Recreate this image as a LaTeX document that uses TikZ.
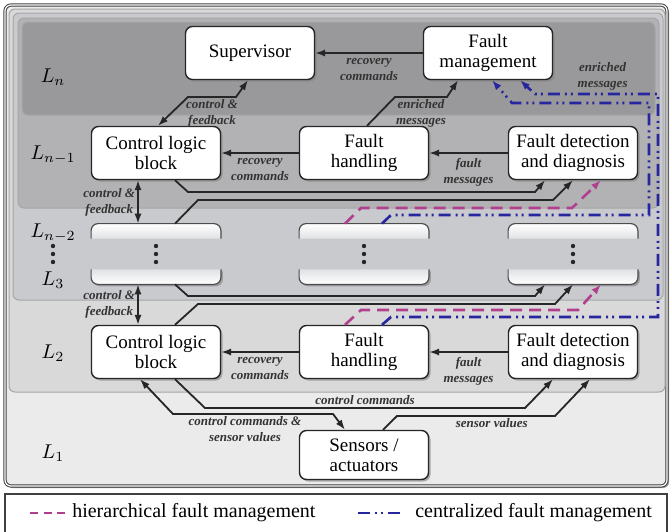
\documentclass[tikz,border=0pt]{standalone}
\usepackage{fontspec}
\setmainfont{Liberation Serif}
\usetikzlibrary{arrows.meta,shadows,calc}

\definecolor{layA}{RGB}{235,235,235}
\definecolor{layB}{RGB}{217,217,217}
\definecolor{layC}{RGB}{201,202,206}
\definecolor{layD}{RGB}{178,178,180}
\definecolor{layE}{RGB}{153,153,155}
\definecolor{hierc}{RGB}{176,64,142}
\definecolor{centc}{RGB}{38,38,158}

\begin{document}
\begin{tikzpicture}[
		x=0.5pt,
		y=-0.5pt,
		tipA/.style={-{Latex[length=5pt,width=3.6pt]}},
		tipB/.style={{Latex[length=5pt,width=3.6pt]}-{Latex[length=5pt,width=3.6pt]}},
		arr/.style={draw=black!85, line width=0.9pt, tipA},
		darr/.style={draw=black!85, line width=0.9pt, tipB},
		hier/.style={draw=hierc, line width=1.3pt, dash pattern=on 6pt off 3.5pt},
		cent/.style={draw=centc, line width=1.3pt, dash pattern=on 6pt off 2.5pt on 1pt off 2pt on 1pt off 2.5pt},
		laybox/.style={draw=black!35, line width=0.5pt, rounded corners=3pt},
		blk/.style={draw=black!85, fill=white, line width=0.7pt, rounded corners=3.5pt, minimum width=64.5pt, minimum height=26.5pt, inner sep=1.5pt, align=center, font=\fontsize{9.5}{10}\selectfont, drop shadow={shadow xshift=1pt, shadow yshift=-1pt, opacity=.6}},
		gapbox/.style={minimum width=64.5pt, minimum height=30pt, inner sep=0pt},
		piece/.style={draw=black!70, line width=0.6pt, rounded corners=3.5pt},
		lbl/.style={font=\fontsize{6.5}{8}\selectfont\bfseries\itshape, text=black!80, align=center, inner sep=1pt},
		laytxt/.style={font=\fontsize{10}{12}\selectfont},
		legtxt/.style={font=\fontsize{10}{12}\selectfont, inner sep=0pt, anchor=west},
	]
		\useasboundingbox (0,0) rectangle (670,531);
		
		\draw[draw=black!75, line width=0.9pt, fill=white] (5,494) rectangle (667,560);
		\draw[laybox, fill=layA, draw=black!75, double=white, double distance=0.6pt, drop shadow={shadow xshift=1pt, shadow yshift=-1pt, opacity=.8}] (5,5) rectangle (667,486);
		\foreach \m/\r/\b/\c in {9/665/392/layB, 13/663/300/layC, 18/659/208/layD, 22/655/115/layE}{
			\draw[laybox, fill=\c] (\m,\m) rectangle (\r,\b);
		}
		
		\foreach \y/\t in {77/n, 155/{n-1}, 233/{n-2}, 280/3, 353/2, 453/1}{
			\node[laytxt] (lay\t) at (53,\y) {$L_{\t}$};
		}
		
		\node[blk] (sup) at (250,53) {Supervisor};
		\node[blk] (fm) at (488,53) {Fault\\management};
		\node[blk] (clb1) at (156,153) {Control logic\\block};
		\node[blk] (fh1) at (364,153) {Fault\\handling};
		\node[blk] (fdd1) at (573,153) {Fault detection\\and diagnosis};
		\node[blk] (clb2) at (156,352) {Control logic\\block};
		\node[blk] (fh2) at (364,352) {Fault\\handling};
		\node[blk] (fdd2) at (573,352) {Fault detection\\and diagnosis};
		\node[blk, minimum height=24.5pt] (sens) at (364,455) {Sensors /\\actuators};
		
		\foreach \n/\x in {gap1/156, gap2/364, gap3/573}{
			\node[gapbox] (\n) at (\x,254) {};
			\path[piece, top color=white, bottom color=layC!55!white] ($(\n.north west)+(0,15)$) -- (\n.north west) -- (\n.north east) -- ($(\n.north east)+(0,15)$);
			\path[piece, top color=layC!55!white, bottom color=white, drop shadow={shadow xshift=1pt, shadow yshift=-1pt, opacity=.6}] ($(\n.south west)+(0,-15)$) -- (\n.south west) -- (\n.south east) -- ($(\n.south east)+(0,-15)$);
		}
		\foreach \x in {53,156,364,573}
			\foreach \y in {246,254,262}
				\fill[black!85] (\x,\y) circle (1.1pt);
		
		\draw[arr] (fm) -- node[lbl, below=1pt] {recovery\\commands} (sup);
		\draw[darr] ($(clb1.north)+(2,0)$) -- (188,97) -- node[lbl, below] {control \&\\feedback} (236,97) -- ($(sup.south)+(-2,0)$);
		\draw[arr] (fh1) -- node[lbl, below=1pt] {recovery\\commands} (clb1);
		\draw[arr] (fdd1) -- node[lbl, below=1pt] {fault\\messages} (fh1);
		\draw[arr] ($(fh1.north)+(3,0)$) -- (395,97) -- node[lbl, below] {enriched\\messages} (447,97) -- ($(fm.south)+(-30,0)$);
		\draw[arr] ($(clb1.south)+(19,0)$) -- (188,192) -- (535,192) -- ($(fdd1.south)+(-28,0)$);
		\draw[arr] ($(gap1.north)+(19,0)$) -- (198,200) -- (553,200) -- (fdd1.south);
		\draw[hier, tipA] ($(gap2.north)+(-19,0)$) -- (361,208) -- (572,208) -- ($(fdd1.south)+(28,0)$);
		\draw[cent, tipA] ($(gap2.north)+(18,0)$) -- (391,215) -- (649,215) -- (649,103) -- (512,103) -- ($(fm.south)+(4,0)$);
		\draw[cent, tipA] ($(fh2.north)+(18,0)$) -- (391,317) -- (658,317) -- (658,94) -- node[lbl, above, pos=.45] {enriched\\messages} (535,94) -- ($(fm.south)+(32,0)$);
		
		\draw[darr] ($(clb1.south)+(-18,0)$) -- node[lbl, left] {control \&\\feedback} ($(gap1.north)+(-18,0)$);
		\draw[darr] ($(gap1.south)+(-18,0)$) -- node[lbl, left] {control \&\\feedback} ($(clb2.north)+(-18,0)$);
		
		\draw[arr] ($(gap1.south)+(19,0)$) -- (188,296) -- (535,296) -- ($(gap3.south)+(-28,0)$);
		\draw[arr] ($(clb2.north)+(19,0)$) -- (198,304) -- (555,304) -- (gap3.south);
		\draw[hier, tipA] ($(fh2.north)+(-19,0)$) -- (361,310) -- (578,310) -- ($(gap3.south)+(28,0)$);
		
		\draw[arr] (fh2) -- node[lbl, below=1pt] {recovery\\commands} (clb2);
		\draw[arr] (fdd2) -- node[lbl, below=1pt] {fault\\messages} (fh2);
		
		\draw[darr] ($(clb2.south)+(-16,0)$) -- (173,414) -- node[lbl, below, pos=.45] {control commands \&\\sensor values} (333,414) -- ($(sens.north)+(-19,0)$);
		\draw[arr] ($(clb2.south)+(19,0)$) -- (205,408) -- node[lbl, above] {control commands} (525,408) -- ($(fdd2.south)+(-20,0)$);
		\draw[arr] ($(sens.north)+(19,0)$) -- (397,416) -- node[lbl, below, pos=.6] {sensor values} (555,416) -- ($(fdd2.south)+(17,0)$);
		
		\draw[hier, dash pattern=on 4pt off 2.75pt] (30,513) -- (65,513) node[legtxt, right=3] (leghier) {hierarchical fault management};
		\draw[cent] (358,513) -- (400,513) node[legtxt, right=7] (legcent) {centralized fault management};
	\end{tikzpicture}
\end{document}
